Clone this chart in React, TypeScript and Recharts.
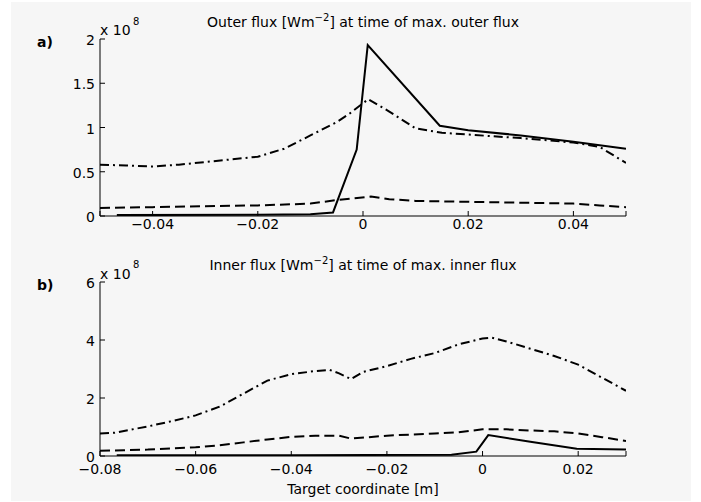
import React from 'react'
import { Line, LineChart, XAxis, YAxis } from 'recharts'

// panel a) outer flux, x in m, y in 1e8 W/m^2
const outerSolidX = [-0.0468, -0.02, -0.01, -0.0057, -0.0012, 0.0009, 0.0146, 0.02, 0.03, 0.04, 0.05]
const outerSolidY = [0.01, 0.015, 0.02, 0.04, 0.75, 1.93, 1.02, 0.97, 0.91, 0.84, 0.76]
const outerDashDotX = [-0.05, -0.045, -0.04, -0.035, -0.03, -0.025, -0.02, -0.015, -0.01, -0.005, -0.0025, 0.001, 0.005, 0.01, 0.015, 0.02, 0.03, 0.04, 0.045, 0.05]
const outerDashDotY = [0.58, 0.57, 0.56, 0.58, 0.61, 0.64, 0.67, 0.76, 0.91, 1.06, 1.16, 1.32, 1.18, 0.99, 0.94, 0.92, 0.88, 0.83, 0.78, 0.6]
const outerDashedX = [-0.05, -0.04, -0.03, -0.02, -0.01, -0.005, 0.0015, 0.005, 0.01, 0.02, 0.03, 0.04, 0.045, 0.05]
const outerDashedY = [0.09, 0.1, 0.11, 0.12, 0.14, 0.18, 0.22, 0.19, 0.17, 0.16, 0.15, 0.14, 0.12, 0.1]

// panel b) inner flux
const innerSolidX = [-0.0765, -0.04, -0.0065, -0.0013, 0.0012, 0.01, 0.0197, 0.03]
const innerSolidY = [0.03, 0.03, 0.04, 0.15, 0.72, 0.49, 0.25, 0.22]
const innerDashDotX = [-0.08, -0.077, -0.07, -0.065, -0.06, -0.055, -0.05, -0.045, -0.04, -0.035, -0.032, -0.03, -0.0275, -0.025, -0.02, -0.015, -0.01, -0.005, 0, 0.002, 0.005, 0.01, 0.015, 0.02, 0.025, 0.03]
const innerDashDotY = [0.78, 0.8, 1.02, 1.2, 1.4, 1.7, 2.15, 2.6, 2.82, 2.93, 2.97, 2.85, 2.65, 2.9, 3.1, 3.35, 3.55, 3.85, 4.05, 4.08, 3.95, 3.7, 3.45, 3.15, 2.7, 2.25]
const innerDashedX = [-0.08, -0.075, -0.07, -0.065, -0.06, -0.055, -0.05, -0.045, -0.04, -0.035, -0.03, -0.0275, -0.02, -0.01, -0.005, 0, 0.005, 0.01, 0.015, 0.02, 0.025, 0.03]
const innerDashedY = [0.18, 0.2, 0.22, 0.26, 0.3, 0.37, 0.47, 0.57, 0.66, 0.7, 0.7, 0.6, 0.7, 0.78, 0.82, 0.92, 0.92, 0.88, 0.85, 0.78, 0.65, 0.52]

const outerXTicks = [-0.05, -0.04, -0.02, 0, 0.02, 0.04, 0.05]
const outerYTicks = [0, 0.5, 1, 1.5, 2]
const innerXTicks = [-0.08, -0.06, -0.04, -0.02, 0, 0.02, 0.03]
const innerYTicks = [0, 2, 4, 6]
const outerXLabels = [-0.04, -0.02, 0, 0.02, 0.04]
const innerXLabels = [-0.08, -0.06, -0.04, -0.02, 0, 0.02]

const toPoints = (xs: number[], ys: number[]) => xs.map((x, i) => ({ x, y: ys[i] }))

const FONT = 'DejaVu Sans'

const fmt = (v: number) => (v === 0 ? '0' : v.toFixed(2).replace('-', '\u2212'))

function XTick(props: any) {
  const { x, y, payload, labels, shift } = props
  if (!labels.includes(payload.value)) return <g />
  return (
    <text x={x} y={y} dy={11 + shift} textAnchor="middle" fontFamily={FONT} fontSize={14} fill="#000">
      {fmt(payload.value)}
    </text>
  )
}

function YTick(props: any) {
  const { x, y, payload } = props
  return (
    <text x={x} y={y} dy={6} textAnchor="end" fontFamily={FONT} fontSize={14} fill="#000">
      {String(payload.value)}
    </text>
  )
}

const empty = () => <g />

interface PanelProps {
  top: number
  height: number
  marginTop: number
  marginBottom: number
  labelShift: number
  domainX: [number, number]
  domainY: [number, number]
  xTicks: number[]
  yTicks: number[]
  xLabels: number[]
  solid: { x: number; y: number }[]
  dashDot: { x: number; y: number }[]
  dashed: { x: number; y: number }[]
}

function Panel(p: PanelProps) {
  return (
    <div style={{ position: 'absolute', left: 0, top: p.top }}>
      <LineChart
        width={701}
        height={p.height}
        margin={{ top: p.marginTop, right: 75, bottom: p.marginBottom, left: 60 }}
      >
        <XAxis
          xAxisId="b"
          dataKey="x"
          type="number"
          orientation="bottom"
          domain={p.domainX}
          ticks={p.xTicks}
          allowDataOverflow
          height={24}
          tickSize={-5}
          tickMargin={7}
          stroke="#000"
          tick={<XTick labels={p.xLabels} shift={p.labelShift} />}
        />
        <XAxis
          xAxisId="t"
          dataKey="x"
          type="number"
          orientation="top"
          domain={p.domainX}
          ticks={p.xTicks}
          allowDataOverflow
          height={0}
          tickSize={-5}
          stroke="#000"
          tick={empty}
        />
        <YAxis
          yAxisId="l"
          type="number"
          domain={p.domainY}
          ticks={p.yTicks}
          allowDataOverflow
          width={40}
          tickSize={-5}
          tickMargin={10}
          stroke="#000"
          tick={<YTick />}
        />
        <YAxis
          yAxisId="r"
          orientation="right"
          type="number"
          domain={p.domainY}
          ticks={p.yTicks}
          allowDataOverflow
          width={0}
          tickSize={-5}
          stroke="#000"
          tick={empty}
        />
        <Line
          xAxisId="b"
          yAxisId="l"
          data={p.dashDot}
          dataKey="y"
          type="linear"
          stroke="#000"
          strokeWidth={2}
          strokeDasharray="9 4 2 4"
          dot={false}
          isAnimationActive={false}
        />
        <Line
          xAxisId="b"
          yAxisId="l"
          data={p.dashed}
          dataKey="y"
          type="linear"
          stroke="#000"
          strokeWidth={2}
          strokeDasharray="10 5"
          dot={false}
          isAnimationActive={false}
        />
        <Line
          xAxisId="b"
          yAxisId="l"
          data={p.solid}
          dataKey="y"
          type="linear"
          stroke="#000"
          strokeWidth={2}
          dot={false}
          isAnimationActive={false}
        />
      </LineChart>
    </div>
  )
}

export default function App() {
  return (
    <div
      style={{
        position: 'absolute',
        left: 0,
        top: 0,
        width: 701,
        height: 502,
        background: '#fff',
        overflow: 'hidden',
      }}
    >
      <div style={{ position: 'absolute', left: 11, top: 2, width: 680, height: 499, background: '#f6f6f6' }} />
      <Panel
        top={0}
        height={240}
        marginTop={39}
        marginBottom={0}
        labelShift={0}
        domainX={[-0.05, 0.05]}
        domainY={[0, 2]}
        xTicks={outerXTicks}
        yTicks={outerYTicks}
        xLabels={outerXLabels}
        solid={toPoints(outerSolidX, outerSolidY)}
        dashDot={toPoints(outerDashDotX, outerDashDotY)}
        dashed={toPoints(outerDashedX, outerDashedY)}
      />
      <Panel
        top={240}
        height={262}
        marginTop={42}
        marginBottom={22}
        labelShift={5}
        domainX={[-0.08, 0.03]}
        domainY={[0, 6]}
        xTicks={innerXTicks}
        yTicks={innerYTicks}
        xLabels={innerXLabels}
        solid={toPoints(innerSolidX, innerSolidY)}
        dashDot={toPoints(innerDashDotX, innerDashDotY)}
        dashed={toPoints(innerDashedX, innerDashedY)}
      />
      <svg
        width={701}
        height={502}
        style={{ position: 'absolute', left: 0, top: 0, pointerEvents: 'none' }}
        fontFamily={FONT}
        fill="#000"
      >
        <text x={363} y={27} textAnchor="middle" fontSize={14}>
          Outer flux [Wm
          <tspan dy={-6} fontSize={10}>{'\u2212'}2</tspan>
          <tspan dy={6}>] at time of max. outer flux</tspan>
        </text>
        <text x={363} y={270} textAnchor="middle" fontSize={14}>
          Inner flux [Wm
          <tspan dy={-6} fontSize={10}>{'\u2212'}2</tspan>
          <tspan dy={6}>] at time of max. inner flux</tspan>
        </text>
        <text x={37} y={47} fontSize={14} fontWeight="bold">a)</text>
        <text x={37} y={290} fontSize={14} fontWeight="bold">b)</text>
        <text x={100} y={35} fontSize={14}>x 10</text>
        <text x={133} y={25} fontSize={10}>8</text>
        <text x={100} y={279} fontSize={14}>x 10</text>
        <text x={133} y={268} fontSize={10}>8</text>
        <text x={363} y={494} textAnchor="middle" fontSize={14}>Target coordinate [m]</text>
      </svg>
    </div>
  )
}
